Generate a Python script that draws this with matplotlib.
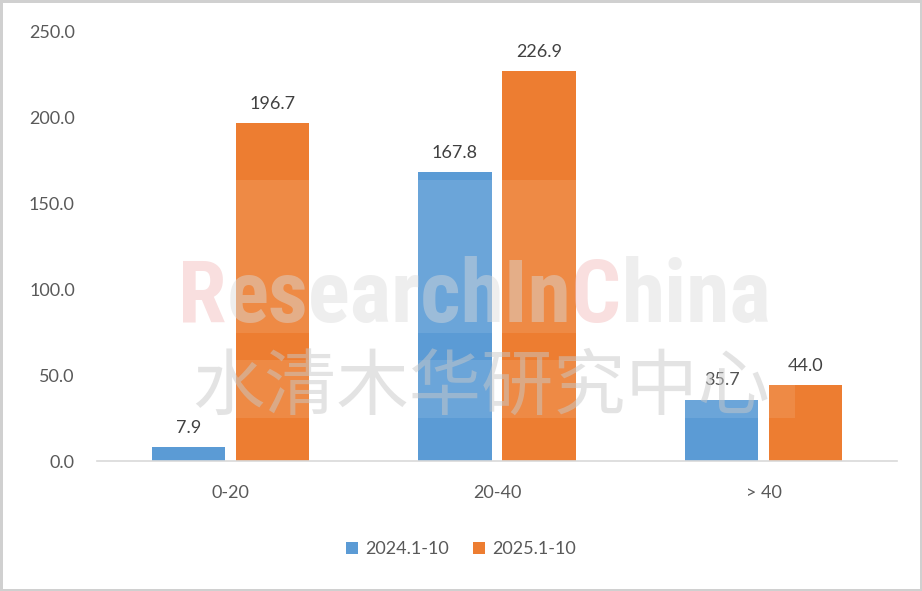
import numpy as np
import matplotlib
matplotlib.use('Agg')
import matplotlib.pyplot as plt
from matplotlib.text import Annotation

# data
categories = ['0-20', '20-40', '> 40']
series_names = ['2024.1-10', '2025.1-10']
vals_2024 = [7.9, 167.8, 35.7]
vals_2025 = [196.7, 226.9, 44.0]
yticks = [0, 50, 100, 150, 200, 250]

BLUE = '#5B9BD5'
ORANGE = '#ED7D31'

plt.rcParams['font.family'] = ['Lato', 'DejaVu Sans']

fig = plt.figure(figsize=(9.22, 5.91), dpi=100)
fig.patch.set_facecolor('white')
fig.patch.set_edgecolor('#D0D0D0')
fig.patch.set_linewidth(2.5)

ax = fig.add_axes([97/922, 1 - 461/591, 800/922, 430/591])

x = np.arange(len(categories))
w = 0.274
off = 0.1575
b1 = ax.bar(x - off, vals_2024, w, color=BLUE, label=series_names[0], zorder=2)
b2 = ax.bar(x + off, vals_2025, w, color=ORANGE, label=series_names[1], zorder=2)

for bars in (b1, b2):
    ax.bar_label(bars, labels=['%.1f' % v for v in bars.datavalues],
                 padding=8, fontsize=13, color='#404040')

ax.set_xlim(-0.5, 2.5)
ax.set_ylim(0, 250)
ax.set_yticks(yticks)
ax.set_yticklabels(['%.1f' % t for t in yticks])
ax.set_xticks(x)
ax.set_xticklabels(categories)
ax.tick_params(axis='y', length=0, pad=16, labelsize=13, labelcolor='#595959')
ax.tick_params(axis='x', length=0, pad=17, labelsize=13, labelcolor='#595959')
for s in ['top', 'right', 'left']:
    ax.spines[s].set_visible(False)
ax.spines['bottom'].set_color('#D9D9D9')
ax.spines['bottom'].set_linewidth(1.2)

fig.legend(handles=[b1, b2], labels=series_names, loc='center',
           bbox_to_anchor=(0.5, 1 - 549/591), ncol=2, frameon=False,
           fontsize=13, handlelength=0.66, handleheight=0.66,
           handletextpad=0.4, columnspacing=1.3, labelcolor='#595959')

# watermark boxes
for (x0, y0, ww, hh) in [(175, 333, 600, 153), (170, 418, 625, 58)]:
    fig.patches.append(plt.Rectangle((x0/922, 1 - y0/591), ww/922, hh/591,
                                     transform=fig.transFigure, facecolor='white',
                                     alpha=0.1, edgecolor='none', zorder=5))

wm_kw = dict(fontweight='bold', fontstretch='condensed',
             family=['Roboto Condensed', 'DejaVu Sans'], alpha=0.45, zorder=6)
pieces = [('R', '#F2B8B8'), ('esearchIn', '#DADADA'), ('C', '#F2B8B8'), ('hina', '#DADADA')]
wm = [fig.text(178/922, 1 - 322/591, pieces[0][0], color=pieces[0][1],
               ha='left', va='baseline', fontsize=60, **wm_kw)]
for txt, col in pieces[1:]:
    wm.append(fig.add_artist(Annotation(
        txt, xy=(1, 0), xycoords=wm[-1], xytext=(0, 0), textcoords='offset points',
        va='bottom', ha='left', color=col, fontsize=60, **wm_kw)))

# fit the watermark word to the width it has in the picture
fig.canvas.draw()
r = fig.canvas.get_renderer()
width = wm[-1].get_window_extent(r).x1 - wm[0].get_window_extent(r).x0
for t in wm:
    t.set_fontsize(60 * 594 / width)

fig.text(481/922, 1 - 388/591, '水清木华研究中心', ha='center', va='center',
         fontsize=52, color='#C8C8C8', alpha=0.5, zorder=6,
         family=['Noto Sans CJK SC', 'DejaVu Sans'])

fig.savefig('out.png', dpi=100, facecolor=fig.get_facecolor(),
            edgecolor=fig.get_edgecolor())
